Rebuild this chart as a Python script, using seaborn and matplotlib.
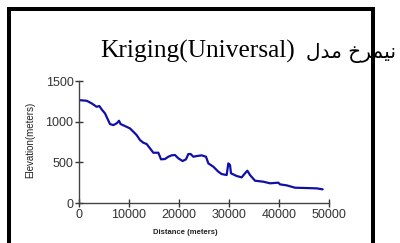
# Kriging (Universal) elevation profile
import matplotlib
matplotlib.use("Agg")
import matplotlib.pyplot as plt
import seaborn as sns
import pandas as pd

# distance along profile (m) and elevation (m)
distance = [0, 1540, 2530, 3530, 4070, 4530, 5200, 5670, 6200, 6870, 7530, 8000,
            8330, 9200, 10200, 10870, 11530, 12200, 12870, 13530, 14200, 14870,
            15870, 16400, 17200, 17870, 18530, 19200, 19870, 20730, 21400, 21870,
            22330, 22870, 23530, 24530, 25400, 25870, 26870, 27870, 28530, 29530,
            29870, 30200, 30400, 31530, 32530, 33200, 33670, 34200, 35200, 36870,
            38200, 39870, 40200, 41530, 43200, 45530, 47530, 48730]
elevation = [1265, 1257, 1225, 1183, 1192, 1151, 1102, 1040, 970, 958, 979, 1011,
             970, 946, 917, 876, 835, 774, 741, 725, 672, 618,
             618, 537, 541, 569, 586, 590, 549, 516, 537, 602,
             602, 569, 577, 586, 569, 487, 446, 385, 356, 344,
             487, 467, 365, 332, 315, 365, 397, 344, 274, 262,
             242, 250, 229, 217, 188, 184, 180, 168]

x_ticks = [0, 10000, 20000, 30000, 40000, 50000]
y_ticks = [0, 500, 1000, 1500]

# title is Persian + Latin; matplotlib does no shaping, so the Persian words
# are given as presentation forms in visual order
title_latin = "Kriging(Universal)"
title_model = "\uFEDD\uFEAA\uFEE3"                 # مدل
title_profile = "\uFEA5\uFEAE\uFEE4\uFBFF\uFEE7"   # نیمرخ

profile = pd.DataFrame({"Distance": distance, "Elevation": elevation})

sns.set_style("ticks")
plt.rcParams["font.family"] = ["Liberation Sans", "DejaVu Sans"]

fig = plt.figure(figsize=(4, 2.43), dpi=100)
ax = fig.add_axes([79 / 400, 1 - 203 / 243, 250 / 400, 122 / 243])

sns.lineplot(data=profile, x="Distance", y="Elevation", ax=ax,
             color="#1010a8", linewidth=1.6)

ax.set_xlim(0, 50000)
ax.set_ylim(0, 1500)
ax.set_xticks(x_ticks)
ax.set_yticks(y_ticks)
ax.tick_params(direction="inout", length=6, width=1, colors="#333333",
               labelsize=9, pad=1)
for s in ["left", "bottom"]:
    ax.spines[s].set_color("#444444")
    ax.spines[s].set_linewidth(1)
sns.despine(ax=ax)

ax.set_xlabel("")
ax.set_ylabel("")
fig.text(185 / 400, 1 - 232 / 243, "Distance (meters)", fontsize=5.5,
         fontweight="bold", ha="center", va="center", color="#222222")
fig.text(30 / 400, 1 - 140 / 243, "Elevation(meters)", fontsize=7,
         rotation=90, ha="center", va="center", color="#222222")

fig.text(100 / 400, 1 - 58 / 243, title_latin, fontsize=18.3, ha="left",
         va="baseline", color="black", family="Liberation Serif", zorder=3)
fig.text(396 / 400, 1 - 58 / 243, title_model + " " + title_profile,
         fontsize=14.5, ha="right", va="baseline", color="black",
         family="DejaVu Sans", zorder=3)

# black frame around the slide picture (bottom edge is cut off)
lw = 4 * 72 / 100
x0, x1, ytop = 9 / 400, 373 / 400, 1 - 9.5 / 243
frame = dict(color="black", linewidth=lw, transform=fig.transFigure, zorder=5,
             solid_capstyle="projecting")
fig.add_artist(plt.Line2D([x0, x0], [-0.05, ytop], **frame))
fig.add_artist(plt.Line2D([x0, x1], [ytop, ytop], **frame))
fig.add_artist(plt.Line2D([x1, x1], [-0.05, ytop], **frame))

fig.savefig("out.png", dpi=100)
